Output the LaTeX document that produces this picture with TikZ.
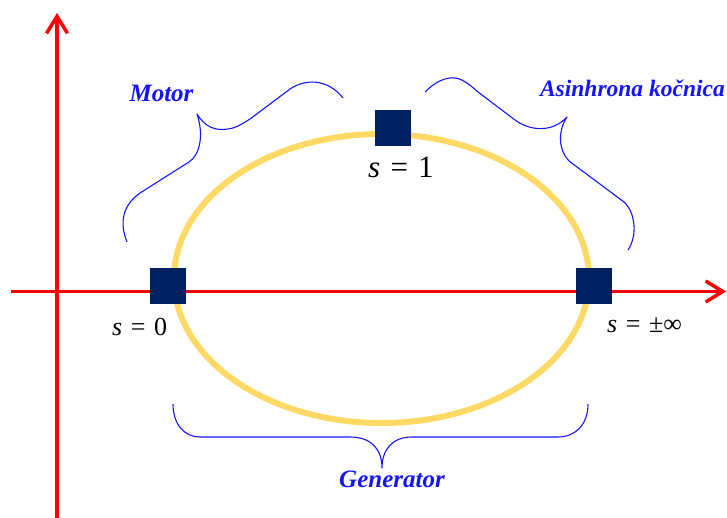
\documentclass[tikz,border=0pt]{standalone}
\usepackage{fontspec}
\setmainfont{Liberation Serif}
\usetikzlibrary{arrows.meta}
\definecolor{axisred}{RGB}{255,0,0}
\definecolor{ellyellow}{RGB}{255,217,102}
\definecolor{navybox}{RGB}{0,32,96}
\definecolor{bracblue}{RGB}{20,20,255}
\tikzset{
  axisline/.style={draw=axisred, line width=3.5pt, -{Straight Barb[length=17pt,width=21pt,line width=3.5pt]}},
  sqbox/.style={fill=navybox, minimum width=36pt, minimum height=36pt, inner sep=0pt, draw=none},
  bracestyle/.style={draw=bracblue, line width=1.1pt, line join=round},
  bluelabel/.style={text=bracblue, font=\fontsize{25}{30}\selectfont\bfseries\itshape, inner sep=0pt},
  slabel/.style={font=\fontsize{26}{30}\selectfont, inner sep=0pt, anchor=base west},
}
\newcommand{\eqsp}{\hspace{0.33em}}
\begin{document}
\begin{tikzpicture}[x=1pt,y=-1pt]
\useasboundingbox (0,0) rectangle (727,518);
% axes
\coordinate (vbot) at (57,518);
\coordinate (vtop) at (57,13);
\coordinate (hleft) at (11,291.5);
\coordinate (hright) at (726,291.5);
\draw[axisline] (vbot) -- (vtop);
\draw[axisline] (hleft) -- (hright);
% ellipse
\draw[ellyellow, line width=6pt] (381.5,278.5) ellipse [x radius=207.5, y radius=144.5];
% squares
\node[sqbox] (s0) at (168,286) {};
\node[sqbox] (s1) at (393,128.5) {};
\node[sqbox] (sinf) at (594,286) {};
% s labels
\node[slabel] (l0) at (112,335) {\textit{s}\eqsp=\eqsp0};
\node[slabel, font=\fontsize{31}{34}\selectfont] (l1) at (368,178) {\textit{s}\eqsp=\eqsp1};
\node[slabel] (linf) at (607,332) {\textit{s}\eqsp=\eqsp±∞};
% blue labels
\node[bluelabel, anchor=base] (motor) at (161.5,101.7) {Motor};
\node[bluelabel, font=\fontsize{23.5}{28}\selectfont\bfseries\itshape, anchor=base east] (asin) at (725,97) {Asinhrona kočnica};
\node[bluelabel, anchor=base] (gen) at (392,487) {Generator};
% braces
\draw[bracestyle] (127,242) .. controls (119,222) and (123,205) .. (140,193)
  -- (189,162) .. controls (200,155) and (204,135) .. (197,114)
  .. controls (205,127) and (215,131) .. (228,129)
  .. controls (236,128) and (242,124) .. (250,119)
  -- (290,89) .. controls (305,79) and (327,78) .. (343,98);
\draw[bracestyle] (425,92) .. controls (435,82) and (445,77) .. (455,78)
  .. controls (463,79) and (470,85) .. (478,92)
  -- (515,120) .. controls (530,131) and (552,133) .. (567,117)
  .. controls (558,130) and (558,150) .. (569,161)
  -- (624,202) .. controls (635,212) and (638,235) .. (628,250);
\draw[bracestyle] (173,404) .. controls (173,425) and (185,437) .. (200,437)
  -- (350,437) .. controls (372,437) and (382,450) .. (382,468)
  .. controls (382,450) and (392,437) .. (412,437)
  -- (558,437) .. controls (575,437) and (588,425) .. (588,404);
\end{tikzpicture}
\end{document}
